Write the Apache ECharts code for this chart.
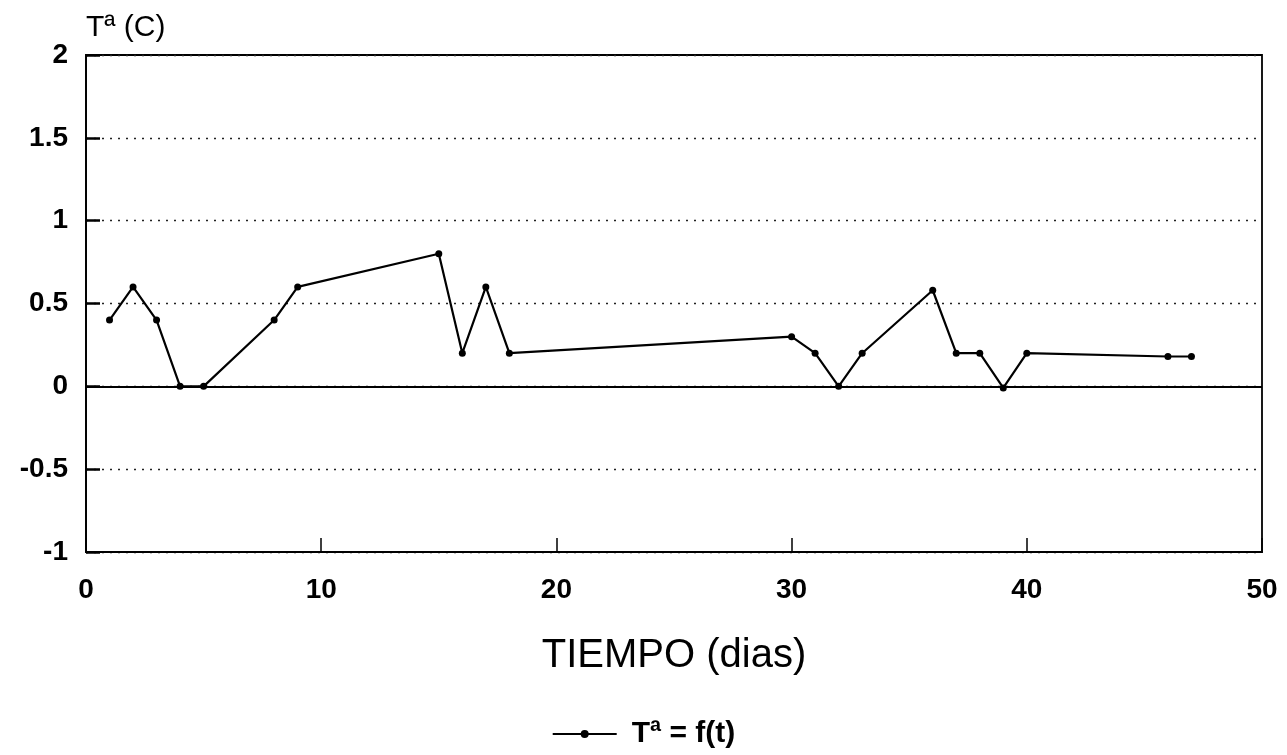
<!DOCTYPE html>
<html><head><meta charset="utf-8">
<script src="https://cdn.jsdelivr.net/npm/echarts@6/dist/echarts.min.js"></script>
<style>html,body{margin:0;padding:0;background:#fff}#c{width:1287px;height:755px}</style>
</head><body><div id="c"></div>
<script>
const days = [1, 2, 3, 4, 5, 8, 9, 15, 16, 17, 18, 30, 31, 32, 33, 36, 37, 38, 39, 40, 46, 47];
const temps = [0.4, 0.6, 0.4, 0, 0, 0.4, 0.6, 0.8, 0.2, 0.6, 0.2, 0.3, 0.2, 0, 0.2, 0.58, 0.2, 0.2, -0.01, 0.2, 0.18, 0.18];
const seriesName = 'Tª = f(t)';
const xTitle = 'TIEMPO (dias)';
const yTitle = 'Tª (C)';

const chart = echarts.init(document.getElementById('c'), null, {renderer: 'canvas'});
const font = 'Liberation Sans, Arial, sans-serif';
chart.setOption({
  animation: false,
  backgroundColor: '#fff',
  grid: {left: 86, right: 25, top: 55, bottom: 203, show: true, borderColor: '#000', borderWidth: 1.8, backgroundColor: 'transparent'},
  legend: {
    bottom: 1, left: 'center',
    data: [seriesName],
    itemWidth: 64, itemHeight: 10, itemGap: 10,
    textStyle: {fontFamily: font, fontSize: 30, color: '#000', fontWeight: 'bold', padding: [0, 0, 0, 10]}
  },
  xAxis: {
    type: 'value', min: 0, max: 50, interval: 10,
    name: xTitle, nameLocation: 'middle', nameGap: 84,
    nameTextStyle: {fontFamily: font, fontSize: 40, color: '#000'},
    axisLine: {show: true, onZero: false, lineStyle: {color: '#000', width: 1.8}},
    axisTick: {show: true, inside: true, length: 14, lineStyle: {color: '#000', width: 1.5}},
    axisLabel: {fontFamily: font, fontSize: 28, fontWeight: 'bold', color: '#000', margin: 24},
    splitLine: {show: false}
  },
  yAxis: {
    type: 'value', min: -1, max: 2, interval: 0.5,
    name: yTitle, nameLocation: 'end', nameGap: 12,
    nameTextStyle: {fontFamily: font, fontSize: 30, color: '#000', align: 'left', padding: [0, 0, 0, 0]},
    axisLine: {show: true, onZero: false, lineStyle: {color: '#000', width: 1.8}},
    axisTick: {show: true, inside: true, length: 14, lineStyle: {color: '#000', width: 2.5}},
    axisLabel: {fontFamily: font, fontSize: 28, fontWeight: 'bold', color: '#000', margin: 18},
    splitLine: {show: true, lineStyle: {color: '#222', type: [2, 6], width: 1.3}}
  },
  series: [{
    name: seriesName,
    type: 'line',
    data: days.map((d, i) => [d, temps[i]]),
    symbol: 'circle', symbolSize: 7,
    lineStyle: {color: '#000', width: 2.2},
    itemStyle: {color: '#000'},
    markLine: {
      silent: true, symbol: 'none', label: {show: false},
      lineStyle: {color: '#000', type: 'solid', width: 1.8},
      data: [{yAxis: 0}]
    }
  }]
});
</script></body></html>
